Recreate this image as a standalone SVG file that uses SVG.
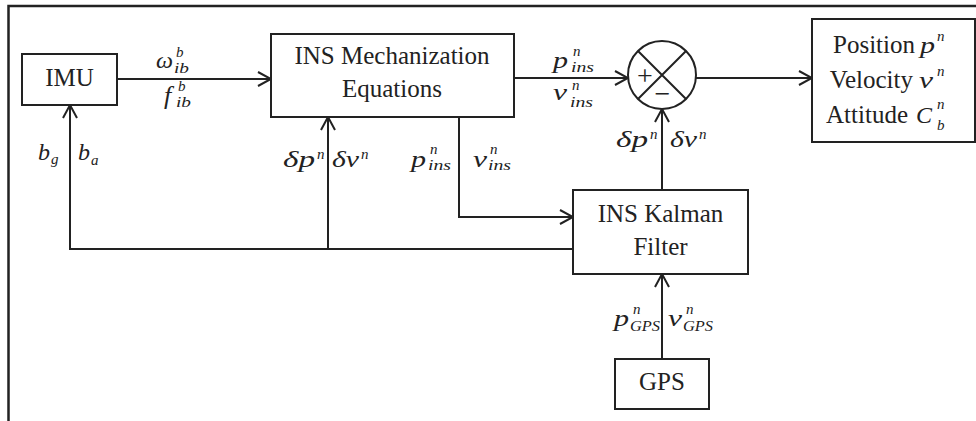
<svg xmlns="http://www.w3.org/2000/svg" width="976" height="421" viewBox="0 0 976 421">
<style>
.box{fill:#fff;stroke:#222;stroke-width:2}
.ln{fill:none;stroke:#222;stroke-width:2}
.t{font-family:"Liberation Serif","Times New Roman",serif;font-size:25px;fill:#222}
.pm{font-family:"Liberation Serif","Times New Roman",serif;font-size:28px;fill:#222}
.m{font-family:"Liberation Serif","Times New Roman",serif;font-style:italic;font-size:24px;fill:#222}
.s{font-family:"Liberation Serif","Times New Roman",serif;font-style:italic;font-size:15px;fill:#222}
</style>
<defs>
<marker id="arr" markerUnits="userSpaceOnUse" viewBox="-15 -9 17 18" refX="0" refY="0" markerWidth="17" markerHeight="18" orient="auto">
<path d="M-13,-7 L0,0 L-13,7" fill="none" stroke="#222" stroke-width="2"/>
</marker>
</defs>
<rect width="976" height="421" fill="#fff"/>
<path d="M976,6 H8.5 V421" fill="none" stroke="#222" stroke-width="2.5"/>

<g id="connectors">
<line class="ln" x1="117" y1="79" x2="271" y2="79" marker-end="url(#arr)"/>
<line class="ln" x1="514" y1="78" x2="628" y2="78" marker-end="url(#arr)"/>
<line class="ln" x1="696" y1="78" x2="812" y2="78" marker-end="url(#arr)"/>
<line class="ln" x1="662" y1="190" x2="662" y2="109" marker-end="url(#arr)"/>
<line class="ln" x1="662" y1="359" x2="662" y2="274" marker-end="url(#arr)"/>
<path class="ln" d="M459,117 V217 H573" marker-end="url(#arr)"/>
<path class="ln" d="M573,249 H70 V105" marker-end="url(#arr)"/>
<line class="ln" x1="328" y1="249" x2="328" y2="117" marker-end="url(#arr)"/>
</g>

<g id="imu">
<rect class="box" x="22" y="54" width="95" height="51"/>
<text class="t" x="69.5" y="86" text-anchor="middle">IMU</text>
</g>
<g id="ins-mech">
<rect class="box" x="271" y="34" width="243" height="83"/>
<text class="t" x="392" y="64" text-anchor="middle">INS Mechanization</text>
<text class="t" x="392" y="97" text-anchor="middle">Equations</text>
</g>
<g id="sum">
<circle cx="662" cy="75" r="34" fill="#fff" stroke="#222" stroke-width="2"/>
<path class="ln" d="M638,51 L686,99 M686,51 L638,99"/>
<text class="pm" x="645" y="85" text-anchor="middle">+</text>
<text class="pm" x="662.5" y="103" text-anchor="middle">−</text>
</g>
<g id="output">
<rect class="box" x="812" y="19" width="163" height="123"/>
<text class="t" x="915" y="53" text-anchor="end">Position</text>
<text class="m" x="920" y="53" textLength="15" lengthAdjust="spacingAndGlyphs">p</text><text class="s" x="937" y="41">n</text>
<text class="t" x="913" y="88" text-anchor="end">Velocity</text>
<text class="m" x="919" y="88" textLength="14" lengthAdjust="spacingAndGlyphs">v</text><text class="s" x="937" y="76">n</text>
<text class="t" x="908" y="123" text-anchor="end">Attitude</text>
<text class="m" x="916" y="123">C</text><text class="s" x="937" y="109">n</text><text class="s" x="937" y="130">b</text>
</g>
<g id="kalman">
<rect class="box" x="573" y="190" width="175" height="84"/>
<text class="t" x="660.5" y="222" text-anchor="middle">INS Kalman</text>
<text class="t" x="660.5" y="255" text-anchor="middle">Filter</text>
</g>
<g id="gps">
<rect class="box" x="615" y="359" width="94" height="50"/>
<text class="t" x="662" y="390" text-anchor="middle">GPS</text>
</g>

<g id="labels">
<text class="m" x="156" y="68" textLength="17" lengthAdjust="spacingAndGlyphs">ω</text><text class="s" x="174" y="73" textLength="15" lengthAdjust="spacingAndGlyphs">ib</text><text class="s" x="176" y="57">b</text>
<text class="m" x="164" y="104" style="font-size:26px">f</text><text class="s" x="176" y="107" textLength="15" lengthAdjust="spacingAndGlyphs">ib</text><text class="s" x="178" y="91">b</text>

<text class="m" x="553" y="68" textLength="15" lengthAdjust="spacingAndGlyphs">p</text><text class="s" x="571" y="72" textLength="23" lengthAdjust="spacingAndGlyphs">ins</text><text class="s" x="573" y="56">n</text>
<text class="m" x="553" y="100" textLength="14" lengthAdjust="spacingAndGlyphs">v</text><text class="s" x="570" y="107" textLength="23" lengthAdjust="spacingAndGlyphs">ins</text><text class="s" x="572" y="90">n</text>

<text class="m" x="38" y="160">b</text><text class="s" x="51" y="164">g</text>
<text class="m" x="78" y="160">b</text><text class="s" x="91" y="165">a</text>

<text class="m" x="283" y="167" textLength="32" lengthAdjust="spacingAndGlyphs">δp</text><text class="s" x="317" y="159">n</text>
<text class="m" x="332" y="167" textLength="27" lengthAdjust="spacingAndGlyphs">δv</text><text class="s" x="361" y="159">n</text>
<text class="m" x="411" y="167" textLength="15" lengthAdjust="spacingAndGlyphs">p</text><text class="s" x="428" y="170" textLength="23" lengthAdjust="spacingAndGlyphs">ins</text><text class="s" x="430" y="154">n</text>
<text class="m" x="473" y="167" textLength="14" lengthAdjust="spacingAndGlyphs">v</text><text class="s" x="488" y="170" textLength="23" lengthAdjust="spacingAndGlyphs">ins</text><text class="s" x="490" y="154">n</text>

<text class="m" x="616" y="147" textLength="32" lengthAdjust="spacingAndGlyphs">δp</text><text class="s" x="650" y="139">n</text>
<text class="m" x="670" y="147" textLength="27" lengthAdjust="spacingAndGlyphs">δv</text><text class="s" x="699" y="139">n</text>

<text class="m" x="614" y="326" textLength="15" lengthAdjust="spacingAndGlyphs">p</text><text class="s" x="630" y="331" textLength="30" lengthAdjust="spacingAndGlyphs">GPS</text><text class="s" x="633" y="314">n</text>
<text class="m" x="668" y="326" textLength="14" lengthAdjust="spacingAndGlyphs">v</text><text class="s" x="683" y="331" textLength="30" lengthAdjust="spacingAndGlyphs">GPS</text><text class="s" x="686" y="314">n</text>
</g>
</svg>
